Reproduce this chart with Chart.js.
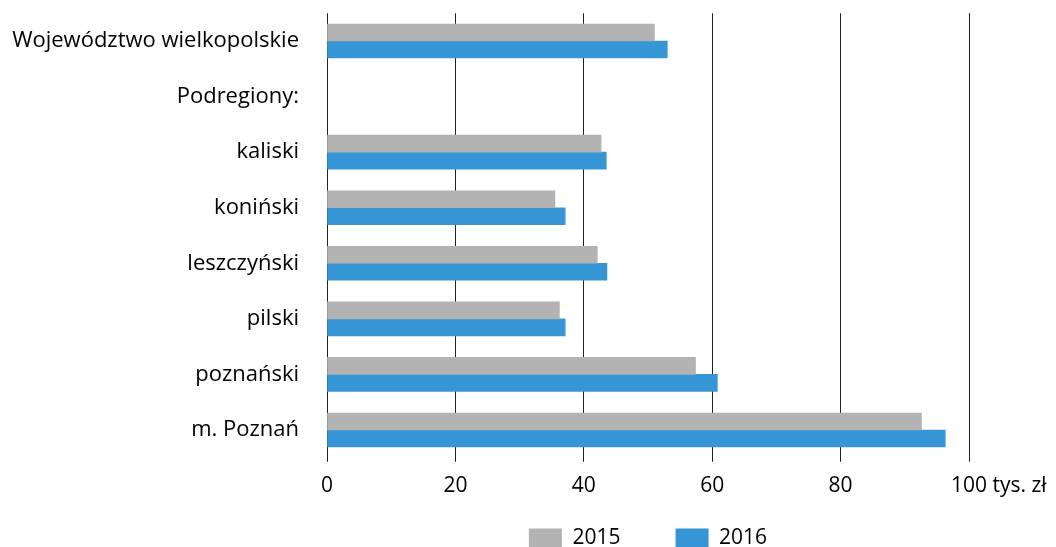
<!DOCTYPE html>
<html lang="pl">
<head>
<meta charset="UTF-8">
<title>Przeciętne wynagrodzenie - podregiony</title>
<script src="https://cdn.jsdelivr.net/npm/chart.js"></script>
<style>
  html, body { margin: 0; padding: 0; background: #fff; overflow: hidden; }
  .wrap { width: 1056px; height: 559px; position: relative; }
</style>
</head>
<body>
<div class="wrap">
  <canvas id="wykres"></canvas>
</div>

<script>
    const kategorie = ['Województwo wielkopolskie', 'Podregiony:', 'kaliski', 'koniński', 'leszczyński', 'pilski', 'poznański', 'm. Poznań'];
    const lata = ['2015', '2016'];
    const wartosci2015 = [51.0, null, 42.7, 35.5, 42.1, 36.2, 57.4, 92.6];
    const wartosci2016 = [53.0, null, 43.5, 37.1, 43.6, 37.1, 60.8, 96.3];
    const osX = [0, 20, 40, 60, 80, 100];
    const jednostka = ' tys. zł';

    const czcionka = { family: '"Open Sans", "Noto Sans", sans-serif', size: 21 };
    const czcionkaY = { family: '"Open Sans", "Noto Sans", sans-serif', size: 22 };
    const tickLen = 4;
    const tickPad = 12;

    // dopisuje jednostke za ostatnia etykieta osi X
    const jednostkaPlugin = {
        id: 'jednostka',
        afterDraw(chart) {
            const x = chart.scales.x;
            const ctx = chart.ctx;
            ctx.save();
            ctx.font = `${czcionka.size}px ${czcionka.family}`;
            ctx.fillStyle = '#000';
            ctx.textBaseline = 'middle';
            ctx.textAlign = 'left';
            const ostatni = osX[osX.length - 1];
            const px = x.getPixelForValue(ostatni);
            const w = ctx.measureText(String(ostatni)).width;
            const y = x.top + tickLen + tickPad + czcionka.size * 1.2 / 2;
            ctx.fillText(jednostka, px + w / 2, y);
            ctx.restore();
        }
    };

    new Chart(document.getElementById('wykres').getContext('2d'), {
        type: 'bar',
        data: {
            labels: kategorie,
            datasets: [
                { label: lata[0], data: wartosci2015, backgroundColor: '#b3b3b3', barThickness: 17 },
                { label: lata[1], data: wartosci2016, backgroundColor: '#3595d5', barThickness: 17 }
            ]
        },
        options: {
            indexAxis: 'y',
            responsive: true,
            maintainAspectRatio: false,
            animation: false,
            layout: { padding: { top: 12, right: 87, left: 0, bottom: 0 } },
            scales: {
                x: {
                    min: 0,
                    max: 100,
                    afterBuildTicks: s => { s.ticks = osX.map(v => ({ value: v })); },
                    grid: { color: '#222', lineWidth: 1, tickLength: tickLen, drawTicks: true, tickColor: '#222' },
                    border: { display: false },
                    ticks: { color: '#000', font: czcionka, padding: tickPad, maxRotation: 0 }
                },
                y: {
                    grid: { drawOnChartArea: false, color: 'rgba(0,0,0,0)', tickLength: 28 },
                    border: { display: false },
                    ticks: { color: '#000', font: czcionkaY, padding: 0 },
                    afterFit: s => { s.width = 327; }
                }
            },
            plugins: {
                legend: {
                    position: 'bottom',
                    fullSize: false,
                    labels: {
                        color: '#000',
                        font: czcionka,
                        boxWidth: 33,
                        boxHeight: 20,
                        padding: 17,
                        generateLabels(chart) {
                            const items = Chart.defaults.plugins.legend.labels.generateLabels(chart);
                            items[0].text += '       ';
                            return items;
                        }
                    }
                },
                tooltip: { enabled: false }
            }
        },
        plugins: [jednostkaPlugin]
    });
</script>
</body>
</html>
